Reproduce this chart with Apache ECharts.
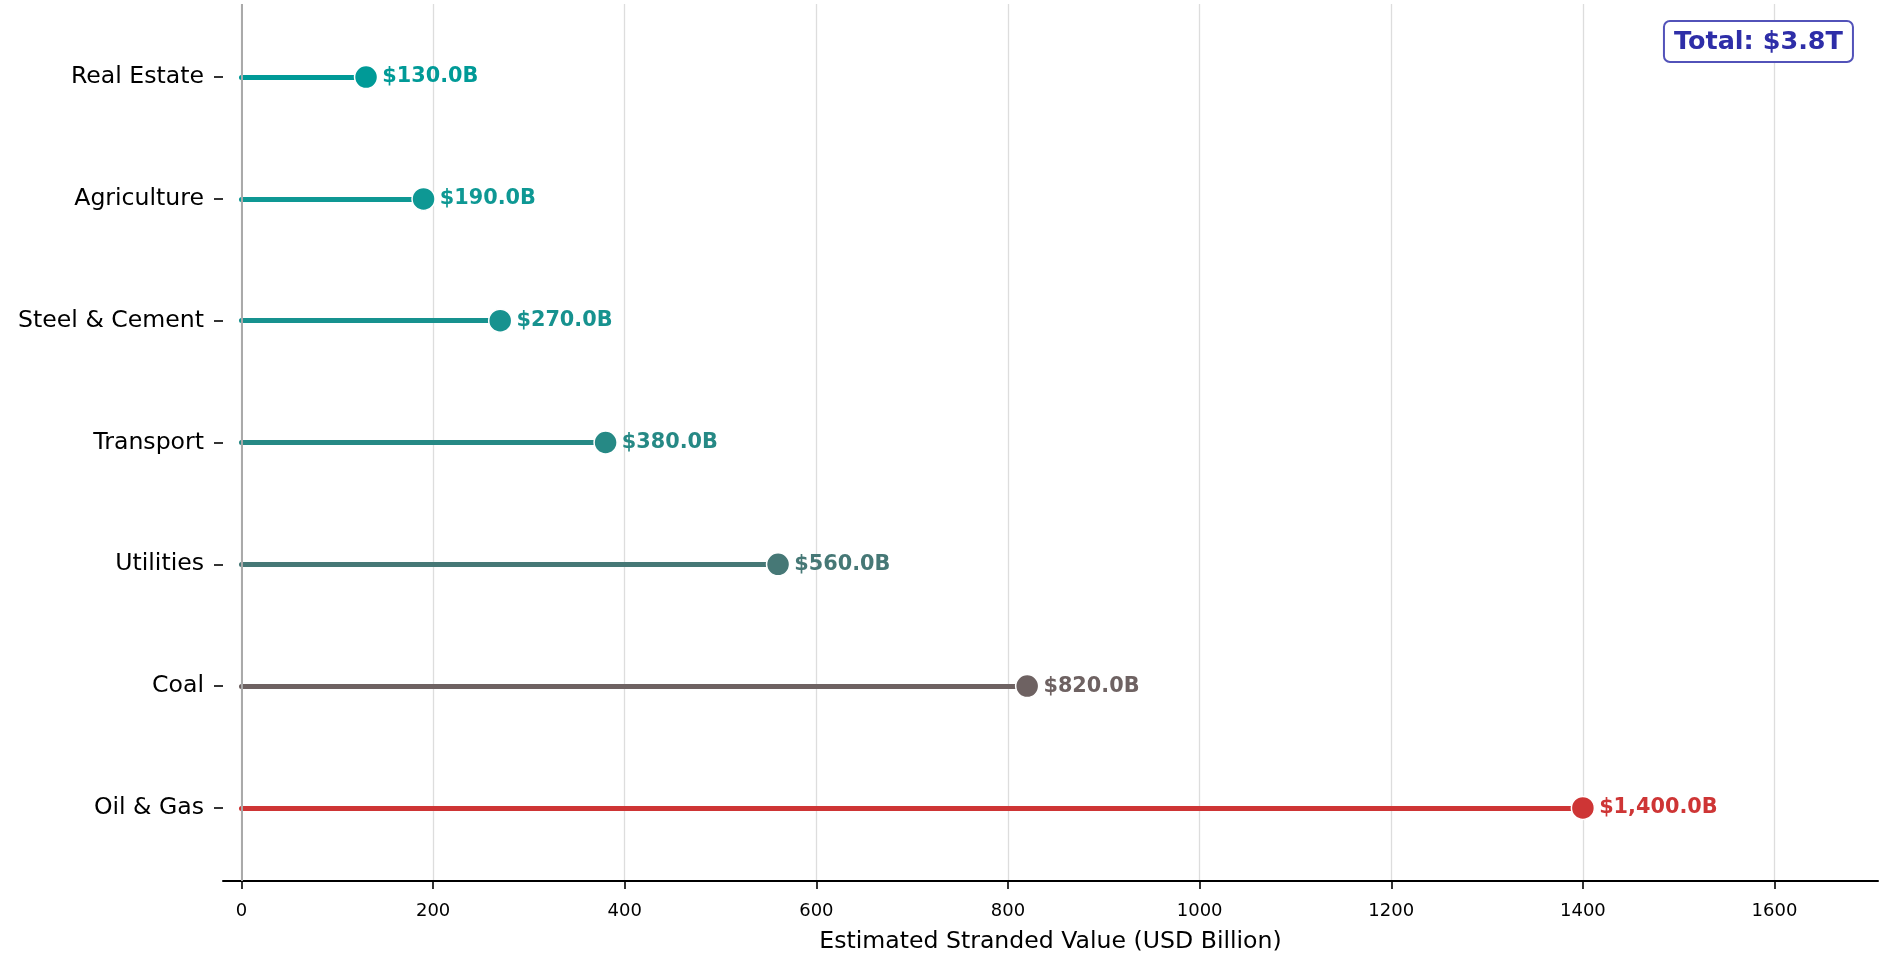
<!DOCTYPE html>
<html>
<head>
<meta charset="utf-8">
<script src="https://cdn.jsdelivr.net/npm/echarts@6/dist/echarts.min.js"></script>
<style>
html,body{margin:0;padding:0;background:#fff;}
#chart{width:1882px;height:953px;}
</style>
</head>
<body>
<div id="chart"></div>
<script>
// Data (bottom to top)
const categories = ['Oil & Gas', 'Coal', 'Utilities', 'Transport', 'Steel & Cement', 'Agriculture', 'Real Estate'];
const values = [1400, 820, 560, 380, 270, 190, 130];
const xTicks = [0, 200, 400, 600, 800, 1000, 1200, 1400, 1600];
const xTitle = 'Estimated Stranded Value (USD Billion)';

// Styles
const colors = ['#CE3535', '#6E6262', '#467876', '#268985', '#17928F', '#0E9894', '#009A97'];
const FONT = 'DejaVu Sans';

const yIdx = categories.map((c, i) => i);
const total = values.reduce((a, b) => a + b, 0);
const fmt = v => '$' + v.toLocaleString('en-US', {minimumFractionDigits: 1, maximumFractionDigits: 1}) + 'B';

const chart = echarts.init(document.getElementById('chart'), null, {renderer: 'canvas'});
chart.setOption({
  animation: false,
  backgroundColor: '#fff',
  title: {
    text: 'Total: $' + (total / 1000).toFixed(1) + 'T',
    right: 29, top: 21,
    padding: [6, 10, 5, 10],
    backgroundColor: '#fff',
    borderColor: '#5252B9',
    borderWidth: 2,
    borderRadius: 6,
    textStyle: {fontFamily: FONT, fontWeight: 'bold', fontSize: 25.5, color: '#2E2EA8', lineHeight: 30}
  },
  grid: {left: 223, right: 4, top: 4, bottom: 72, containLabel: false, outerBoundsMode: 'none'},
  xAxis: {
    type: 'value',
    min: -19.3, max: 1708,
    name: xTitle,
    nameLocation: 'middle',
    nameGap: 49,
    nameTextStyle: {fontFamily: FONT, fontSize: 23.6, color: '#000'},
    axisLine: {show: true, onZero: false, lineStyle: {color: '#000', width: 2}},
    axisTick: {show: true, length: 8, customValues: xTicks, lineStyle: {color: '#000', width: 1.6}},
    axisLabel: {customValues: xTicks, margin: 21, fontFamily: FONT, fontSize: 18, color: '#000',
      formatter: v => String(v)},
    splitLine: {show: true, lineStyle: {color: '#DDDDDD', width: 1.3}}
  },
  yAxis: {
    type: 'value',
    min: -0.6, max: 6.6,
    axisLine: {show: false, onZero: false},
    axisTick: {show: true, length: 9, customValues: yIdx, lineStyle: {color: '#000', width: 1.6}},
    axisLabel: {customValues: yIdx, margin: 19, fontFamily: FONT, fontSize: 23.6, color: '#000',
      formatter: v => categories[Math.round(v)] || ''},
    splitLine: {show: false}
  },
  series: [
    {
      type: 'lines',
      coordinateSystem: 'cartesian2d',
      z: 2,
      silent: true,
      lineStyle: {width: 5, opacity: 1, cap: 'round'},
      data: values.map((v, i) => ({coords: [[0, i], [v, i]], lineStyle: {color: colors[i]}})),
      markLine: {
        silent: true,
        symbol: 'none',
        label: {show: false},
        lineStyle: {color: '#AAAAAA', width: 2, type: 'solid'},
        data: [{xAxis: 0}]
      }
    },
    {
      type: 'scatter',
      z: 3,
      symbol: 'circle',
      symbolSize: 23,
      data: values.map((v, i) => ({
        value: [v, i],
        itemStyle: {color: colors[i], borderColor: '#fff', borderWidth: 1.5, opacity: 1},
        label: {color: colors[i]}
      })),
      label: {
        show: true,
        position: 'right',
        distance: 4,
        opacity: 1,
        fontFamily: FONT,
        fontWeight: 'bold',
        fontSize: 20.8,
        formatter: p => fmt(p.value[0])
      }
    }
  ]
});
</script>
</body>
</html>
